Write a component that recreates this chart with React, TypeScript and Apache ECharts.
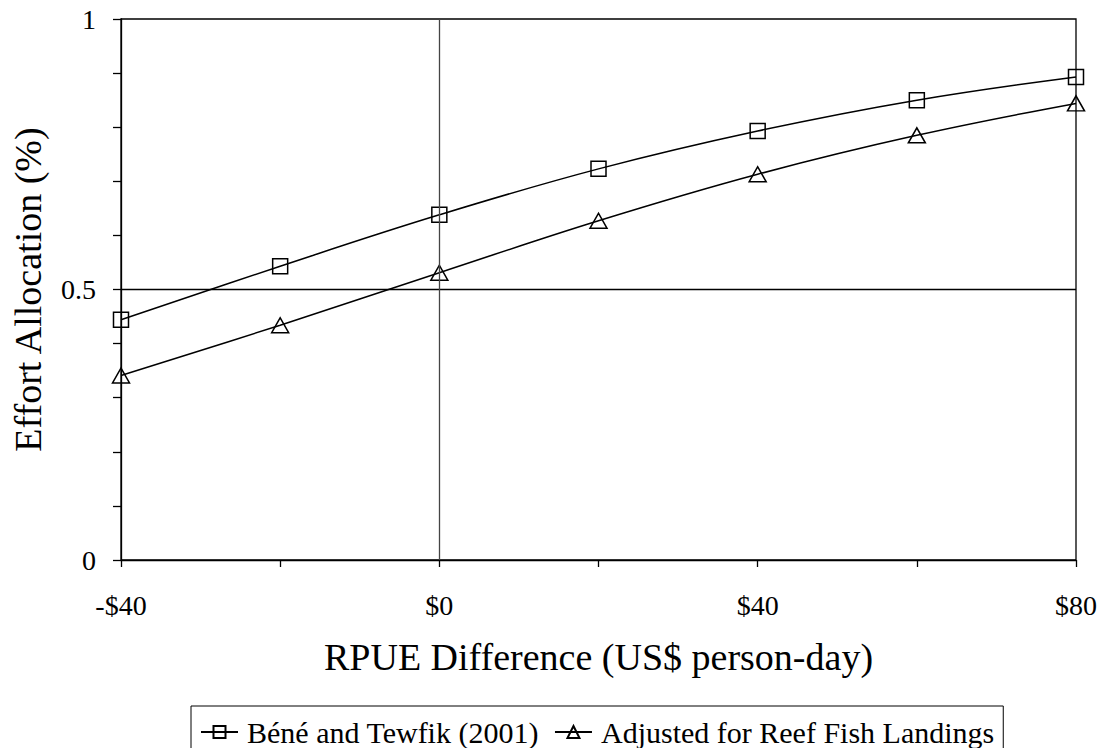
import React, { useEffect, useRef } from "react";
import * as echarts from "echarts";

const xValues = [-40, -20, 0, 20, 40, 60, 80];
const beneTewfik = [0.444, 0.543, 0.638, 0.723, 0.793, 0.85, 0.893];
const adjustedReef = [0.341, 0.434, 0.531, 0.627, 0.713, 0.785, 0.844];
const seriesNames = ["Béné and Tewfik (2001)", "Adjusted for Reef Fish Landings"];
const xLabelValues = [-40, 0, 40, 80];
const yLabelValues = [0, 0.5, 1];

const FONT = "'Liberation Serif', 'Times New Roman', serif";

export default function App() {
  const ref = useRef<HTMLDivElement>(null);
  useEffect(() => {
    if (!ref.current) return;
    const chart = echarts.init(ref.current, undefined, { renderer: "svg" });
    const toPairs = (arr: number[]) => xValues.map((x, i) => [x, arr[i]]);
    chart.setOption({
      animation: false,
      backgroundColor: "#fff",
      textStyle: { fontFamily: FONT, color: "#000" },
      grid: {
        left: 121,
        top: 19,
        width: 955,
        height: 541,
        show: true,
        borderColor: "#000",
        borderWidth: 1.3,
        backgroundColor: "transparent",
      },
      legend: {
        left: 191,
        top: 706,
        orient: "horizontal",
        borderColor: "#000",
        borderWidth: 1,
        padding: [11, 9, 11, 9],
        itemWidth: 37,
        itemHeight: 15,
        itemGap: 15,
        textStyle: { fontFamily: FONT, fontSize: 30, color: "#000", padding: [0, 0, 0, 4] },
        data: seriesNames,
      },
      xAxis: {
        type: "value",
        min: -40,
        max: 80,
        interval: 20,
        name: "RPUE Difference (US$ person-day)",
        nameLocation: "middle",
        nameGap: 78,
        nameTextStyle: { fontFamily: FONT, fontSize: 38, color: "#000" },
        axisLine: { show: true, onZero: false, lineStyle: { color: "#000", width: 1.3 } },
        axisTick: { show: true, length: 7, inside: false, lineStyle: { color: "#000", width: 1.3 } },
        splitLine: { show: false },
        axisLabel: {
          interval: 0,
          margin: 31,
          fontFamily: FONT,
          fontSize: 28,
          color: "#000",
          formatter: (v: number) => {
            if (!xLabelValues.some((t) => Math.abs(t - v) < 1e-6)) return "";
            return v < 0 ? "-$" + Math.abs(v) : "$" + v;
          },
        },
      },
      yAxis: {
        type: "value",
        min: 0,
        max: 1,
        interval: 0.1,
        name: "Effort Allocation (%)",
        nameLocation: "middle",
        nameGap: 74,
        nameTextStyle: { fontFamily: FONT, fontSize: 38, color: "#000" },
        axisLine: { show: true, onZero: false, lineStyle: { color: "#000", width: 1.3 } },
        axisTick: { show: true, length: 8, inside: false, lineStyle: { color: "#000", width: 1.3 } },
        splitLine: { show: false },
        axisLabel: {
          interval: 0,
          margin: 25,
          fontFamily: FONT,
          fontSize: 28,
          color: "#000",
          formatter: (v: number) => {
            const t = yLabelValues.find((y) => Math.abs(y - v) < 1e-6);
            return t === undefined ? "" : String(t);
          },
        },
      },
      series: [
        {
          name: seriesNames[0],
          type: "line",
          smooth: 0.4,
          data: toPairs(beneTewfik),
          symbol: "rect",
          symbolSize: 15,
          lineStyle: { color: "#000", width: 1.5 },
          itemStyle: { color: "rgba(255,255,255,0)", borderColor: "#000", borderWidth: 1.5 },
          markLine: {
            silent: true,
            symbol: "none",
            label: { show: false },
            animation: false,
            data: [
              { yAxis: 0.5, lineStyle: { color: "#000", width: 1.3, type: "solid" } },
              { xAxis: 0, lineStyle: { color: "#444", width: 1.3, type: "solid" } },
            ],
          },
          z: 3,
        },
        {
          name: seriesNames[1],
          type: "line",
          smooth: 0.4,
          data: toPairs(adjustedReef),
          symbol: "triangle",
          symbolSize: [17, 15],
          lineStyle: { color: "#000", width: 1.5 },
          itemStyle: { color: "rgba(255,255,255,0)", borderColor: "#000", borderWidth: 1.5 },
          z: 3,
        },
      ],
    });
    return () => chart.dispose();
  }, []);
  return (
    <div
      ref={ref}
      style={{ position: "absolute", left: 0, top: 0, width: 1103, height: 748 }}
    />
  );
}
